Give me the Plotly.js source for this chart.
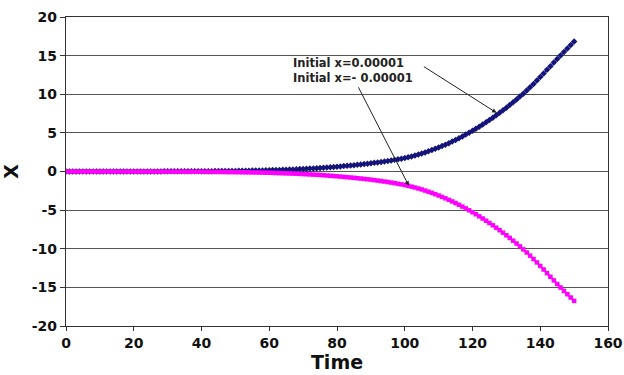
<!DOCTYPE html>
<html>
<head>
<meta charset="utf-8">
<script src="https://cdn.plot.ly/plotly-3.0.1.min.js"></script>
<style>
html,body{margin:0;padding:0;background:#fff;}
#chart{width:624px;height:375px;}
</style>
</head>
<body>
<div id="chart"></div>
<script>
// Time steps 0..150
const time = [];
for (let t = 0; t <= 150; t++) time.push(t);

// Series (positive initial condition)
const xPositive = [
 0.00001,0.0003,0.0006,0.0009,0.0012,0.0015,0.0018,0.0021,0.0024,0.0027,
 0.0030,0.0034,0.0038,0.0042,0.0046,0.0050,0.0056,0.0062,0.0068,0.0074,
 0.0080,0.0088,0.0096,0.0104,0.0112,0.0120,0.0132,0.0144,0.0156,0.0168,
 0.0180,0.0195,0.0211,0.0227,0.0243,0.0260,0.0283,0.0306,0.0330,0.0355,
 0.0380,0.0413,0.0447,0.0482,0.0516,0.0550,0.0597,0.0645,0.0694,0.0746,
 0.0800,0.0866,0.0934,0.1004,0.1076,0.1150,0.1245,0.1344,0.1446,0.1546,
 0.1650,0.178,0.192,0.206,0.220,0.235,0.253,0.271,0.290,0.310,
 0.330,0.353,0.377,0.401,0.425,0.450,0.483,0.516,0.550,0.585,
 0.620,0.658,0.697,0.737,0.778,0.820,0.865,0.911,0.959,1.009,
 1.060,1.117,1.175,1.235,1.297,1.360,1.432,1.506,1.584,1.665,
 1.750,1.850,1.957,2.072,2.195,2.325,2.465,2.613,2.769,2.933,
 3.105,3.285,3.473,3.669,3.873,4.085,4.307,4.537,4.775,5.021,
 5.275,5.537,5.807,6.085,6.371,6.665,6.967,7.277,7.595,7.921,
 8.255,8.600,8.955,9.320,9.695,10.080,10.480,10.895,11.325,11.770,
 12.225,12.690,13.160,13.630,14.100,14.570,15.030,15.485,15.935,16.385,
 16.835
];

// Series (negative initial condition)
const xNegative = [
 -0.00001,-0.0003,-0.0006,-0.0009,-0.0012,-0.0015,-0.0018,-0.0021,-0.0024,-0.0027,
 -0.0030,-0.0034,-0.0038,-0.0042,-0.0046,-0.0050,-0.0056,-0.0062,-0.0068,-0.0074,
 -0.0080,-0.0088,-0.0096,-0.0104,-0.0112,-0.0120,-0.0132,-0.0144,-0.0156,-0.0168,
 -0.0180,-0.0195,-0.0211,-0.0227,-0.0243,-0.0260,-0.0283,-0.0306,-0.0330,-0.0355,
 -0.0380,-0.0413,-0.0447,-0.0482,-0.0516,-0.0550,-0.0597,-0.0645,-0.0694,-0.0746,
 -0.0800,-0.0866,-0.0934,-0.1004,-0.1076,-0.1150,-0.1245,-0.1344,-0.1446,-0.1546,
 -0.1650,-0.178,-0.192,-0.206,-0.220,-0.235,-0.253,-0.271,-0.290,-0.310,
 -0.330,-0.353,-0.377,-0.401,-0.425,-0.450,-0.483,-0.516,-0.550,-0.585,
 -0.620,-0.658,-0.697,-0.737,-0.778,-0.820,-0.865,-0.911,-0.959,-1.009,
 -1.060,-1.117,-1.175,-1.235,-1.297,-1.360,-1.432,-1.506,-1.584,-1.665,
 -1.750,-1.850,-1.957,-2.072,-2.195,-2.325,-2.465,-2.613,-2.769,-2.933,
 -3.105,-3.285,-3.473,-3.669,-3.873,-4.085,-4.307,-4.537,-4.775,-5.021,
 -5.275,-5.537,-5.807,-6.085,-6.371,-6.665,-6.967,-7.277,-7.595,-7.921,
 -8.255,-8.600,-8.955,-9.320,-9.695,-10.080,-10.480,-10.895,-11.325,-11.770,
 -12.225,-12.690,-13.160,-13.630,-14.100,-14.570,-15.020,-15.460,-15.890,-16.320,
 -16.750
];

const xTicks = [0, 20, 40, 60, 80, 100, 120, 140, 160];
const yTicks = [-20, -15, -10, -5, 0, 5, 10, 15, 20];
const labelPositive = "Initial x=0.00001";
const labelNegative = "Initial x=- 0.00001";

const fam = "DejaVu Sans, Liberation Sans, Arial, sans-serif";
const tickFont = {family: fam, size: 14, color: "#111", weight: "bold"};
const titleFont = {family: fam, size: 19, color: "#111", weight: "bold"};
const noteFont = {family: fam, size: 11.5, color: "#222", weight: "bold"};

const traces = [
  {
    x: time, y: xPositive, type: "scatter", mode: "lines+markers",
    line: {color: "#14147a", width: 1},
    marker: {symbol: "diamond", size: 5, color: "#14147a"},
    hoverinfo: "skip", showlegend: false
  },
  {
    x: time, y: xNegative, type: "scatter", mode: "lines+markers",
    line: {color: "#ff00ff", width: 2},
    marker: {symbol: "square", size: 4.5, color: "#ff00ff"},
    hoverinfo: "skip", showlegend: false
  }
];

const layout = {
  width: 624, height: 375,
  margin: {l: 66, r: 16, t: 17, b: 49},
  paper_bgcolor: "#ffffff", plot_bgcolor: "#ffffff",
  xaxis: {
    range: [0, 160], tickvals: xTicks, ticktext: xTicks.map(String),
    showgrid: false, zeroline: false,
    showline: true, linecolor: "#333", linewidth: 1.2, mirror: true,
    ticks: "outside", ticklen: 4, tickcolor: "#333",
    tickfont: tickFont,
    title: {text: "Time", font: titleFont, standoff: 3}
  },
  yaxis: {
    range: [-20, 20], tickvals: yTicks, ticktext: yTicks.map(String),
    showgrid: true, gridcolor: "#555", gridwidth: 1,
    zeroline: false,
    showline: true, linecolor: "#333", linewidth: 1.2, mirror: true,
    ticks: "outside", ticklen: 5, tickcolor: "#333",
    tickfont: tickFont,
    title: {text: "X", font: titleFont, standoff: 10}
  },
  annotations: [
    {x: 66.4, y: 13.1, xref: "x", yref: "y", text: labelPositive + "<br>" + labelNegative,
     showarrow: false, align: "left",
     xanchor: "left", yanchor: "middle", font: noteFont},
    {x: 127.1, y: 7.6, xref: "x", yref: "y", ax: 105.2, ay: 13.7, axref: "x", ayref: "y",
     text: "", showarrow: true, arrowhead: 2, arrowsize: 0.9, arrowwidth: 1, arrowcolor: "#222", standoff: 0},
    {x: 101.2, y: -1.85, xref: "x", yref: "y", ax: 86.1, ay: 11.1, axref: "x", ayref: "y",
     text: "", showarrow: true, arrowhead: 2, arrowsize: 0.9, arrowwidth: 1, arrowcolor: "#222", standoff: 0}
  ]
};

Plotly.newPlot("chart", traces, layout, {displayModeBar: false, staticPlot: true});
</script>
</body>
</html>
